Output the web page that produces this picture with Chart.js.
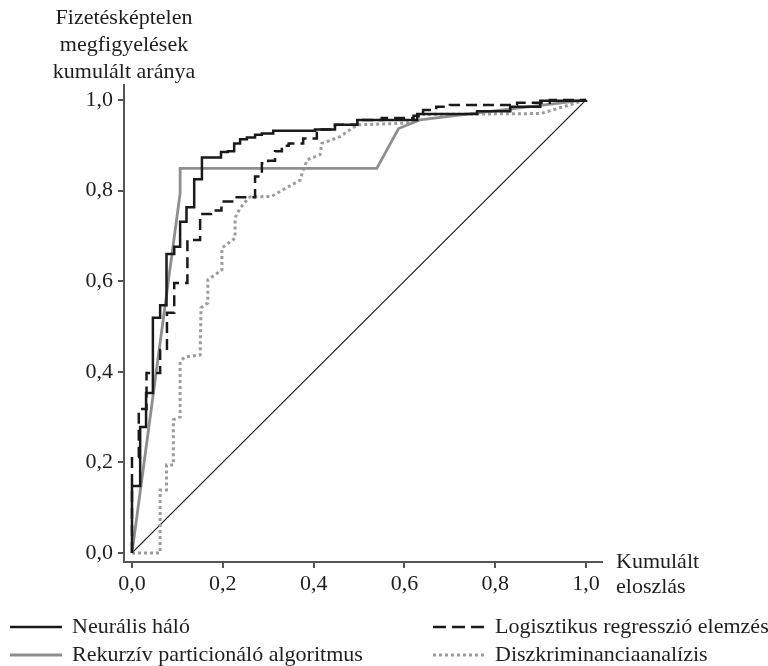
<!DOCTYPE html>
<html lang="hu">
<head>
<meta charset="UTF-8">
<title>ROC</title>
<style>
  html, body { margin: 0; padding: 0; background: #fff; }
  #wrap { width: 768px; height: 666px; }
</style>
</head>
<body>
<div id="wrap"><canvas id="myChart" width="768" height="666"></canvas></div>

<script src="https://cdn.jsdelivr.net/npm/chart.js@4.4.0/dist/chart.umd.min.js"></script>
<script>
// values (x = cumulative distribution, y = cumulative share of defaults)
const xTicks = [0, 0.2, 0.4, 0.6, 0.8, 1.0];
const yTicks = [0, 0.2, 0.4, 0.6, 0.8, 1.0];

const seriesNames = [
  'Neurális háló',
  'Logisztikus regresszió elemzés',
  'Rekurzív particionáló algoritmus',
  'Diszkriminanciaanalízis'
];

// step curves: each point = end of a horizontal run at height y
const neuralX = [0, 0.018, 0.031, 0.046, 0.062, 0.076, 0.093, 0.106, 0.120, 0.137, 0.154, 0.196, 0.211, 0.225, 0.238, 0.253, 0.271, 0.286, 0.311, 0.403, 0.447, 0.496, 0.628, 0.760, 0.833, 0.899, 1.0, 1.0];
const neuralY = [0, 0.148, 0.278, 0.353, 0.519, 0.547, 0.660, 0.676, 0.731, 0.763, 0.825, 0.873, 0.885, 0.887, 0.904, 0.913, 0.917, 0.923, 0.926, 0.932, 0.935, 0.945, 0.956, 0.969, 0.975, 0.985, 0.998, 1.0];

const logitX = [0, 0.015, 0.032, 0.062, 0.077, 0.093, 0.122, 0.150, 0.174, 0.197, 0.227, 0.271, 0.286, 0.300, 0.315, 0.330, 0.345, 0.377, 0.407, 0.447, 0.496, 0.550, 0.620, 0.641, 0.670, 0.700, 0.848, 0.920, 1.0];
const logitY = [0, 0.212, 0.318, 0.397, 0.448, 0.530, 0.596, 0.691, 0.748, 0.756, 0.776, 0.785, 0.831, 0.860, 0.866, 0.887, 0.899, 0.904, 0.915, 0.935, 0.945, 0.956, 0.960, 0.965, 0.978, 0.985, 0.989, 0.994, 1.0];

const recursiveX = [0, 0.106, 0.106, 0.539, 0.587, 0.634, 1.0];
const recursiveY = [0, 0.794, 0.849, 0.849, 0.937, 0.956, 1.0];

const discrimX = [0, 0.062, 0.062, 0.076, 0.076, 0.091, 0.091, 0.106, 0.106, 0.115, 0.150, 0.152, 0.167, 0.167, 0.198, 0.198, 0.227, 0.227, 0.238, 0.253, 0.260, 0.307, 0.330, 0.370, 0.377, 0.386, 0.414, 0.418, 0.458, 0.496, 0.606, 0.640, 0.900, 0.950, 1.0];
const discrimY = [0, 0, 0.139, 0.139, 0.194, 0.194, 0.294, 0.300, 0.422, 0.432, 0.437, 0.541, 0.552, 0.603, 0.625, 0.673, 0.695, 0.740, 0.761, 0.779, 0.786, 0.787, 0.800, 0.823, 0.845, 0.868, 0.879, 0.904, 0.919, 0.945, 0.949, 0.968, 0.970, 0.985, 1.0];

const diagX = [0, 1];
const diagY = [0, 1];

const yTitle = ['Fizetésképtelen', 'megfigyelések', 'kumulált aránya'];
const xTitle = ['Kumulált', 'eloszlás'];

const FONT = '"Liberation Serif", "Times New Roman", serif';
const TXT = '#1e1e1e';
const AXIS = '#555555';

function pts(xs, ys) {
  return xs.map((x, i) => ({ x: x, y: ys[i] }));
}
function fmt(v) {
  return v.toFixed(1).replace('.', ',');
}

const datasets = [
  { label: seriesNames[0], data: pts(neuralX, neuralY), borderColor: '#1a1a1a', borderWidth: 2.5, stepped: 'after' },
  { label: seriesNames[1], data: pts(logitX, logitY), borderColor: '#1a1a1a', borderWidth: 2.5, borderDash: [11, 6], stepped: 'after' },
  { label: seriesNames[2], data: pts(recursiveX, recursiveY), borderColor: '#8e8e8e', borderWidth: 2.8 },
  { label: seriesNames[3], data: pts(discrimX, discrimY), borderColor: '#9c9c9c', borderWidth: 3, borderDash: [3, 3] },
  { label: '', data: pts(diagX, diagY), borderColor: '#1a1a1a', borderWidth: 1.2, noLegend: true }
];
datasets.forEach(d => {
  d.showLine = true;
  d.pointRadius = 0;
  d.fill = false;
  d.borderCapStyle = 'butt';
  d.borderJoinStyle = 'miter';
});

// titles + two-column legend
const extras = {
  id: 'extras',
  afterDraw(chart) {
    const ctx = chart.ctx;
    const area = chart.chartArea;
    ctx.save();
    ctx.fillStyle = TXT;
    ctx.font = '22px ' + FONT;
    ctx.textBaseline = 'middle';

    ctx.textAlign = 'center';
    yTitle.forEach((t, i) => ctx.fillText(t, area.left, 18 + i * 27));

    ctx.textAlign = 'left';
    xTitle.forEach((t, i) => ctx.fillText(t, area.right + 14, area.bottom + i * 25));

    const slots = [
      { x: 10, y: 627 }, { x: 433, y: 627 },
      { x: 10, y: 655 }, { x: 433, y: 655 }
    ];
    chart.data.datasets.filter(d => !d.noLegend).forEach((d, i) => {
      const s = slots[i];
      ctx.beginPath();
      ctx.strokeStyle = d.borderColor;
      ctx.lineWidth = d.borderWidth;
      ctx.setLineDash(d.borderDash ? (d.borderDash[0] > 5 ? [13, 6] : [3, 3]) : []);
      ctx.moveTo(s.x, s.y);
      ctx.lineTo(s.x + 52, s.y);
      ctx.stroke();
      ctx.setLineDash([]);
      ctx.fillText(d.label, s.x + 62, s.y);
    });
    ctx.restore();
  }
};

const axisCommon = {
  type: 'linear',
  border: { color: AXIS, width: 2 },
  grid: { drawOnChartArea: false, drawTicks: true, tickLength: 6, color: AXIS, lineWidth: 2 },
  ticks: { color: TXT, font: { family: FONT, size: 22 }, callback: v => fmt(v) }
};

const config = {
  type: 'scatter',
  data: { datasets: datasets },
  options: {
    responsive: false,
    animation: false,
    layout: { padding: { top: 85, right: 166, bottom: 0, left: 0 } },
    plugins: { legend: { display: false }, tooltip: { enabled: false } },
    scales: {
      x: Object.assign({}, axisCommon, {
        position: 'bottom',
        min: -0.0176, max: 1.035,
        ticks: Object.assign({}, axisCommon.ticks, { padding: 3, maxRotation: 0 }),
        afterBuildTicks: s => { s.ticks = xTicks.map(v => ({ value: v })); },
        afterFit: s => { s.height = 104; }
      }),
      y: Object.assign({}, axisCommon, {
        position: 'left',
        min: -0.02, max: 1.033,
        ticks: Object.assign({}, axisCommon.ticks, { padding: 5 }),
        afterBuildTicks: s => { s.ticks = yTicks.map(v => ({ value: v })); },
        afterFit: s => { s.width = 124; }
      })
    }
  },
  plugins: [extras]
};

const myChart = new Chart(document.getElementById('myChart'), config);
</script>
</body>
</html>
